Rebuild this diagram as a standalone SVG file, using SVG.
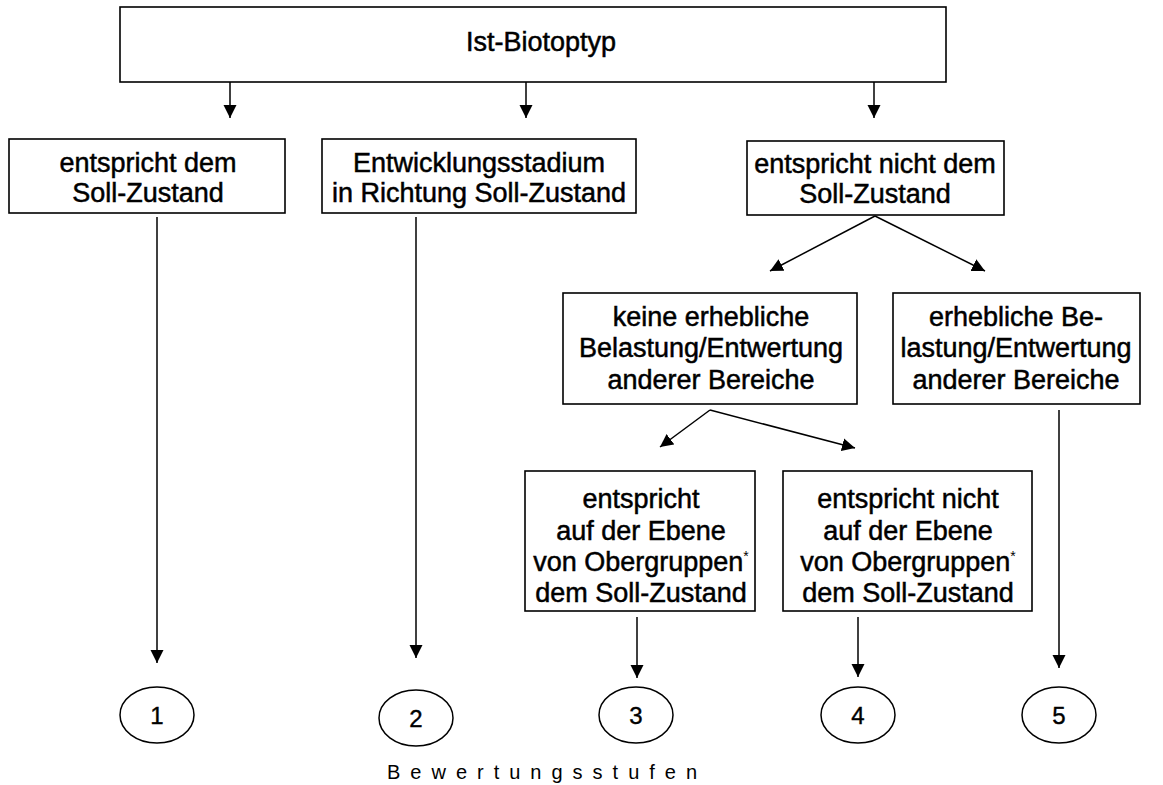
<svg xmlns="http://www.w3.org/2000/svg" width="1163" height="785" viewBox="0 0 1163 785">
<style>
.box{fill:#fff;stroke:#000;stroke-width:1.6}
.t{font-family:"Liberation Sans",Arial,sans-serif;font-size:27px;fill:#000;text-anchor:middle;stroke:#000;stroke-width:0.5}
.c{fill:none;stroke:#000;stroke-width:1.5}
.ell{fill:#fff;stroke:#000;stroke-width:1.5}
.n{font-family:"Liberation Sans",Arial,sans-serif;font-size:24px;fill:#000;text-anchor:middle;stroke:#000;stroke-width:0.4}
.sup{font-size:14px;stroke-width:0}
.lg{font-family:"Liberation Sans",Arial,sans-serif;font-size:20px;letter-spacing:10px;fill:#000}
</style>
<defs>
<marker id="ah" markerUnits="userSpaceOnUse" markerWidth="14" markerHeight="14" viewBox="0 0 14 14" refX="13" refY="7" orient="auto">
<path d="M0,0.5 L13,7 L0,13.5 Z" fill="#000"/>
</marker>
</defs>
<rect width="1163" height="785" fill="#fff"/>
<g id="connectors">
<line class="c" x1="230" y1="82" x2="230" y2="118" marker-end="url(#ah)"/>
<line class="c" x1="526" y1="82" x2="526" y2="118" marker-end="url(#ah)"/>
<line class="c" x1="874" y1="82" x2="874" y2="118" marker-end="url(#ah)"/>
<line class="c" x1="157" y1="217" x2="157" y2="663" marker-end="url(#ah)"/>
<line class="c" x1="416" y1="217" x2="416" y2="658" marker-end="url(#ah)"/>
<line class="c" x1="875" y1="216" x2="770" y2="271" marker-end="url(#ah)"/>
<line class="c" x1="875" y1="216" x2="985" y2="271" marker-end="url(#ah)"/>
<line class="c" x1="710" y1="410" x2="660" y2="447" marker-end="url(#ah)"/>
<line class="c" x1="710" y1="410" x2="855" y2="448" marker-end="url(#ah)"/>
<line class="c" x1="1059" y1="410" x2="1059" y2="668" marker-end="url(#ah)"/>
<line class="c" x1="637" y1="617" x2="637" y2="678" marker-end="url(#ah)"/>
<line class="c" x1="858" y1="617" x2="858" y2="677" marker-end="url(#ah)"/>
</g>
<g id="ist">
<rect class="box" x="120" y="7" width="826" height="75"/>
<text class="t" x="541" y="51">Ist-Biotoptyp</text>
</g>
<g id="n1">
<rect class="box" x="9" y="139" width="276" height="74"/>
<text class="t" x="148" y="172">entspricht dem</text>
<text class="t" x="148" y="202">Soll-Zustand</text>
</g>
<g id="n2">
<rect class="box" x="322" y="139" width="314" height="74"/>
<text class="t" x="479" y="172">Entwicklungsstadium</text>
<text class="t" x="479" y="202">in Richtung Soll-Zustand</text>
</g>
<g id="n3">
<rect class="box" x="747" y="141" width="257" height="74"/>
<text class="t" x="875" y="173">entspricht nicht dem</text>
<text class="t" x="875" y="203">Soll-Zustand</text>
</g>
<g id="n4">
<rect class="box" x="563" y="293" width="294" height="111"/>
<text class="t" x="711" y="326">keine erhebliche</text>
<text class="t" x="711" y="357">Belastung/Entwertung</text>
<text class="t" x="711" y="389">anderer Bereiche</text>
</g>
<g id="n5">
<rect class="box" x="893" y="293" width="247" height="111"/>
<text class="t" x="1016" y="326">erhebliche Be-</text>
<text class="t" x="1016" y="357">lastung/Entwertung</text>
<text class="t" x="1016" y="389">anderer Bereiche</text>
</g>
<g id="n6">
<rect class="box" x="525" y="471" width="230" height="140"/>
<text class="t" x="641" y="508">entspricht</text>
<text class="t" x="641" y="540">auf der Ebene</text>
<text class="t" x="641" y="571">von Obergruppen<tspan class="sup" dy="-10">*</tspan></text>
<text class="t" x="641" y="602">dem Soll-Zustand</text>
</g>
<g id="n7">
<rect class="box" x="783" y="471" width="249" height="140"/>
<text class="t" x="908" y="508">entspricht nicht</text>
<text class="t" x="908" y="540">auf der Ebene</text>
<text class="t" x="908" y="571">von Obergruppen<tspan class="sup" dy="-10">*</tspan></text>
<text class="t" x="908" y="602">dem Soll-Zustand</text>
</g>
<g id="s1"><ellipse class="ell" cx="157" cy="715" rx="37" ry="28"/><text class="n" x="157" y="724">1</text></g>
<g id="s2"><ellipse class="ell" cx="416" cy="718" rx="37" ry="28"/><text class="n" x="416" y="727">2</text></g>
<g id="s3"><ellipse class="ell" cx="636" cy="715" rx="37" ry="28"/><text class="n" x="636" y="724">3</text></g>
<g id="s4"><ellipse class="ell" cx="858" cy="715" rx="37" ry="28"/><text class="n" x="858" y="724">4</text></g>
<g id="s5"><ellipse class="ell" cx="1059" cy="715" rx="37" ry="28"/><text class="n" x="1059" y="724">5</text></g>
<g id="legend">
<text class="lg" x="387" y="779">Bewertungsstufen</text>
</g>
</svg>
